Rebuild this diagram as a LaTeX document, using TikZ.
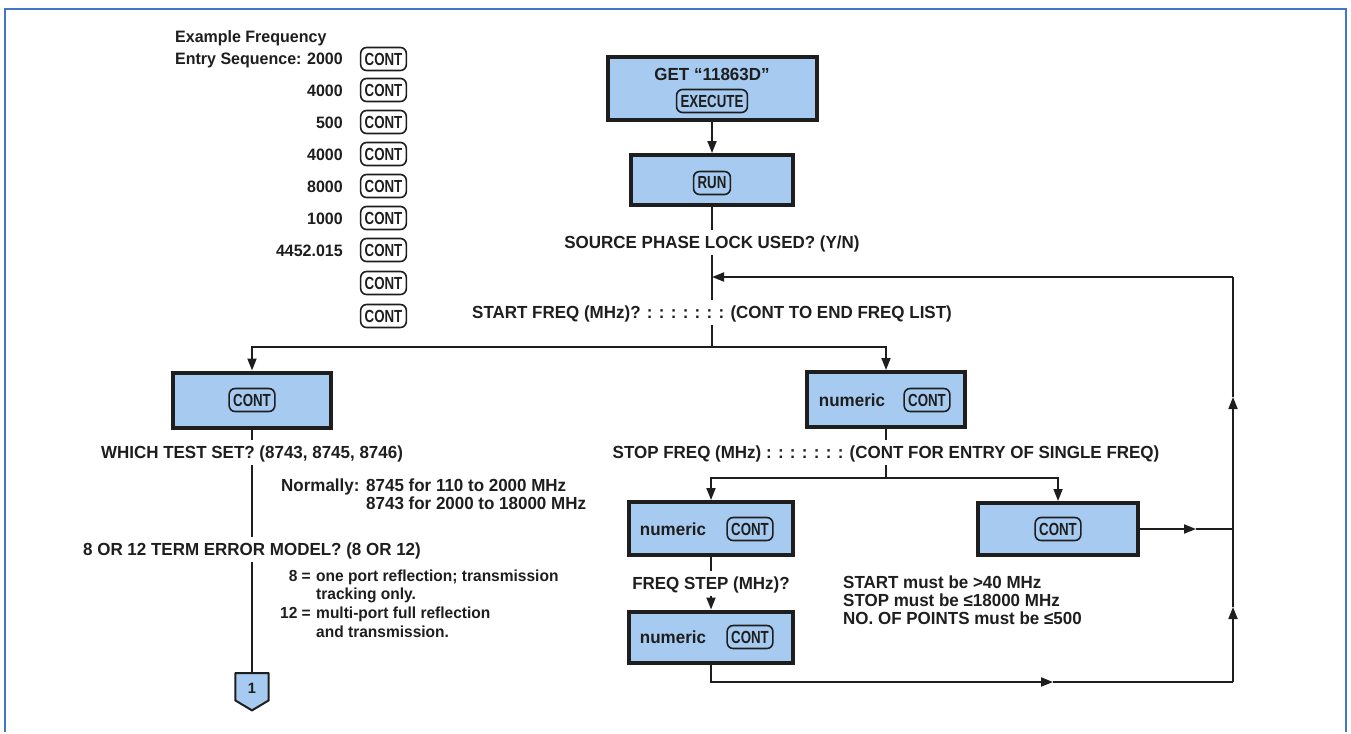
\documentclass[tikz,border=0pt]{standalone}
\usepackage{fontspec}
\setmainfont{Liberation Sans}
\newfontfamily\lblfont{Liberation Sans}[FakeStretch=0.97]
\newfontfamily\btnfont{Liberation Sans}[FakeStretch=0.76]
\usetikzlibrary{arrows.meta,calc}
\definecolor{boxblue}{RGB}{166,202,240}
\definecolor{frameblue}{RGB}{66,118,200}
\definecolor{ink}{RGB}{30,30,30}
\begin{document}
\begin{tikzpicture}[x=1pt,y=-1pt,
  conn/.style={line width=1.8pt,draw=ink},
  arr/.style={conn,-{Triangle[length=12pt,width=9pt]}},
  fbox/.style={draw=ink,line width=4pt,fill=boxblue,inner sep=0pt},
  btn/.style={draw=ink,line width=1.6pt,rounded corners=6pt,inner xsep=4pt,inner ysep=0pt,
    minimum height=23pt,font=\btnfont\bfseries\fontsize{17.5}{18}\selectfont,text=ink},
  lbl/.style={font=\lblfont\bfseries\fontsize{17.5}{19}\selectfont,text=ink,inner sep=0pt},
  lstlbl/.style={font=\lblfont\bfseries\fontsize{16.5}{18}\selectfont,text=ink,inner sep=0pt},
  notelbl/.style={font=\lblfont\bfseries\fontsize{16}{18}\selectfont,text=ink,inner sep=0pt},
  tlbl/.style={lbl,anchor=base,inner ysep=5pt,text height=12.5pt,text depth=2pt},
  pbase/.style={lbl,anchor=base west},
  lbase/.style={lstlbl,anchor=base west},
  nbase/.style={lbl,anchor=base east},
  lnbase/.style={lstlbl,anchor=base east},
  ntbase/.style={notelbl,anchor=base west},
  ntnbase/.style={notelbl,anchor=base east}]
% background and frame
\fill[white] (0,0) rectangle (1351,732);
\draw[frameblue,line width=2.5pt] (5,732) -- (5,9) -- (1346,9) -- (1346,732);

% example list
\node[lbase] (ex1) at (175,43) {Example Frequency};
\node[lbase] (ex2) at (175,65) {Entry Sequence:};
\foreach \v/\y [count=\i] in {2000/59,4000/90,500/122,4000/154,8000/186,1000/218,4452.015/250,/283,/316}{
  \node[lnbase] (num\i) at (343,\y+6) {\v};
  \node[btn,fill=white] (lb\i) at (383.5,\y) {CONT};
}

% main boxes
\node[fbox,minimum width=209,minimum height=63] (get) at (712,88.5) {};
\node[lbl] (gettxt) at (712,74) {GET “11863D”};
\node[btn] (getbtn) at (712,101) {EXECUTE};
\node[fbox,minimum width=162,minimum height=50] (run) at (712,180) {};
\node[btn] (runbtn) at (712,183) {RUN};

\node[tlbl] (src) at (712,248) {SOURCE PHASE LOCK USED? (Y/N)};
\node[tlbl] (start) at (712,318) {START FREQ (MHz)? : : : : : : : (CONT TO END FREQ LIST)};

\node[fbox,minimum width=158,minimum height=55] (cl) at (252,400) {};
\node[btn] (clbtn) at (252,400) {CONT};
\node[fbox,minimum width=158,minimum height=55] (nt) at (886,399.5) {};
\node[lbl] (nttxt) at (852,400) {numeric};
\node[btn] (ntbtn) at (927,400) {CONT};

\node[tlbl] (which) at (252,458) {WHICH TEST SET? (8743, 8745, 8746)};
\node[tlbl] (model) at (252,555) {8 OR 12 TERM ERROR MODEL? (8 OR 12)};
\node[tlbl] (stop) at (886,458) {STOP FREQ (MHz) : : : : : : : (CONT FOR ENTRY OF SINGLE FREQ)};

\node[pbase] (norm) at (281,491) {Normally:};
\node[pbase] (norm1) at (366,491) {8745 for 110 to 2000 MHz};
\node[pbase] (norm2) at (366,509) {8743 for 2000 to 18000 MHz};

\node[ntnbase] (e8) at (311,581) {8 =};
\node[ntbase] (e8a) at (316,581) {one port reflection; transmission};
\node[ntbase] (e8b) at (316,599) {tracking only.};
\node[ntnbase] (e12) at (311,618) {12 =};
\node[ntbase] (e12a) at (316,618) {multi-port full reflection};
\node[ntbase] (e12b) at (316,637) {and transmission.};

\node[inner sep=0pt,minimum width=33,minimum height=27,anchor=north] (pent) at (252,673) {};
\draw[draw=ink,fill=boxblue,line width=2pt,line join=round]
  (pent.north west) -- (pent.north east) -- (pent.south east) -- ($(pent.south)+(0,10)$)
  -- (pent.south west) -- cycle;
\node[lbl,font=\lblfont\bfseries\fontsize{15}{15}\selectfont] (pentnum) at ($(pent.center)+(0,2)$) {1};

\node[fbox,minimum width=164,minimum height=53] (nl) at (711,528.5) {};
\node[lbl] (nltxt) at (673,529) {numeric};
\node[btn] (nlbtn) at (750,529) {CONT};
\node[fbox,minimum width=160,minimum height=52] (cr) at (1058,529) {};
\node[btn] (crbtn) at (1058,529) {CONT};
\node[tlbl] (step) at (711,589) {FREQ STEP (MHz)?};
\node[fbox,minimum width=164,minimum height=51] (nb) at (711,637) {};
\node[lbl] (nbtxt) at (673,637) {numeric};
\node[btn] (nbbtn) at (750,637) {CONT};

\node[pbase] (lim1) at (843,588) {START must be {>}40 MHz};
\node[pbase] (lim2) at (843,606) {STOP must be ≤18000 MHz};
\node[pbase] (lim3) at (843,624) {NO. OF POINTS must be ≤500};

% coordinates
\coordinate (entry) at (712,277);
\coordinate (split) at (712,347);
\coordinate (split2) at (886,478);
\coordinate (a1) at (1053,682);
\coordinate (rb) at (1233,682);
\coordinate (u2) at (1233,607);
\coordinate (j) at (1233,529);
\coordinate (u1) at (1233,397);
\coordinate (rt) at (1233,277);
\coordinate (a2) at (1196,529);

% connectors
\draw[arr] (get) -- (run);
\draw[conn] (run) -- (src);
\draw[conn] (src) -- (start);
\draw[conn] (start) -- (split);
\draw[arr] (split) -| (cl);
\draw[arr] (split) -| (nt);
\draw[conn] (cl) -- (which);
\draw[conn] (which) -- (model);
\draw[conn] (model) -- (pent);
\draw[conn] (nt) -- (stop);
\draw[conn] (stop) -- (split2);
\draw[arr] (split2) -| (nl);
\draw[arr] (split2) -| (cr);
\draw[conn] (nl) -- (step);
\draw[arr] (step) -- (nb);
\draw[arr] (nb) |- (a1);
\draw[conn] (a1) -- (rb);
\draw[arr] (rb) -- (u2);
\draw[conn] (u2) -- (j);
\draw[arr] (j) -- (u1);
\draw[conn] (u1) -- (rt);
\draw[arr] (rt) -- (entry);
\draw[arr] (cr) -- (a2);
\draw[conn] (a2) -- (j);
\end{tikzpicture}
\end{document}
